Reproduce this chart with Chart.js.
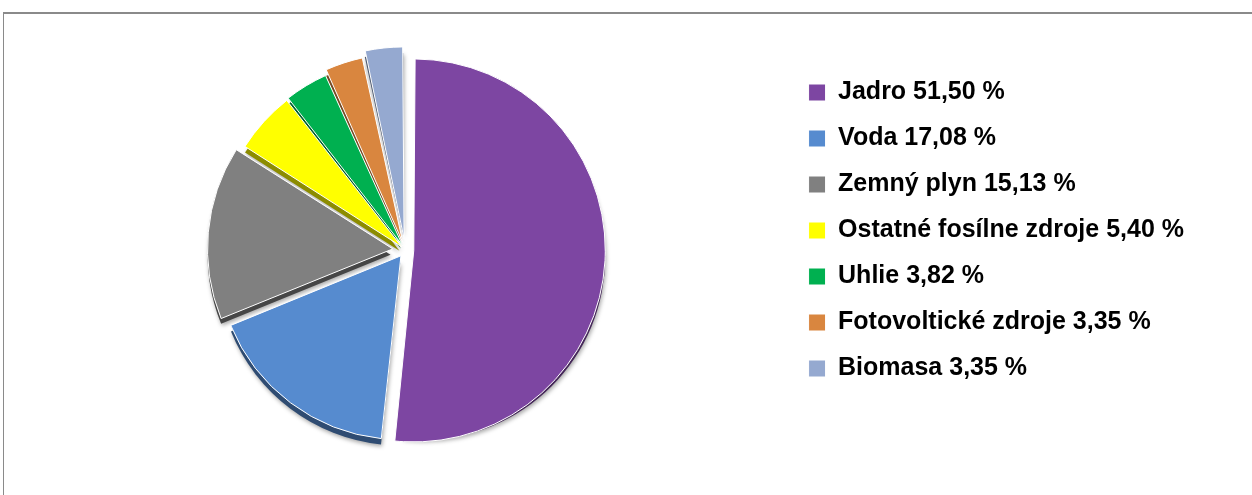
<!DOCTYPE html>
<html>
<head>
<meta charset="utf-8">
<script src="https://cdn.jsdelivr.net/npm/chart.js@4/dist/chart.umd.min.js"></script>
<style>
  html, body { margin: 0; padding: 0; background: #fff; }
  #wrap { position: relative; width: 1252px; height: 495px; overflow: hidden; }
  #frame { position: absolute; left: 3px; top: 12px; width: 1300px; height: 600px;
           border-left: 1px solid #8a8a8a; border-top: 2px solid #8a8a8a; }
  canvas { position: absolute; left: 0; top: 0; }
</style>
</head>
<body>
<div id="wrap">
  <div id="frame"></div>
  <canvas id="graph-area" width="1252" height="495"></canvas>
</div>
<script>
const categories = ['Jadro', 'Voda', 'Zemný plyn', 'Ostatné fosílne zdroje', 'Uhlie', 'Fotovoltické zdroje', 'Biomasa'];
const shares = [51.50, 17.08, 15.13, 5.40, 3.82, 3.35, 3.35];
const colors = ['#7D46A2', '#568BCF', '#808080', '#FFFF00', '#00B050', '#D9863F', '#95A9D0'];

const labels = categories.map((c, i) => c + ' ' + shares[i].toFixed(2).replace('.', ',') + ' %');
const explode = [34, 29, 50, 19, 20, 31, 45];

function darken(hex, f) {
  const n = parseInt(hex.slice(1), 16);
  const r = Math.round(((n >> 16) & 255) * f);
  const g = Math.round(((n >> 8) & 255) * f);
  const b = Math.round((n & 255) * f);
  return 'rgb(' + r + ',' + g + ',' + b + ')';
}

// same shift that ArcElement.draw applies for "offset"
function arcShift(arc) {
  const p = arc.getProps(['startAngle', 'endAngle', 'circumference']);
  const off = (arc.options.offset || 0) / 4;
  const fix = 1 - Math.sin(Math.min(Math.PI, p.circumference || 0));
  const d = off * (1 + fix);
  const half = (p.startAngle + p.endAngle) / 2;
  return {dx: Math.cos(half) * d, dy: Math.sin(half) * d};
}

// fake 3D side: darker copy of each arc, pushed down a few pixels
const depthPlugin = {
  id: 'depth',
  beforeDatasetsDraw(chart) {
    const ctx = chart.ctx;
    const meta = chart.getDatasetMeta(0);
    const depth = 6;
    ctx.save();
    ctx.shadowColor = 'rgba(0,0,0,0.35)';
    ctx.shadowBlur = 4;
    ctx.shadowOffsetX = 1;
    ctx.shadowOffsetY = 2;
    meta.data.forEach((arc, i) => {
      const p = arc.getProps(['x', 'y', 'startAngle', 'endAngle', 'outerRadius']);
      const s = arcShift(arc);
      const cx = p.x + s.dx;
      const cy = p.y + s.dy + depth;
      ctx.beginPath();
      ctx.moveTo(cx, cy);
      ctx.arc(cx, cy, p.outerRadius, p.startAngle, p.endAngle);
      ctx.closePath();
      ctx.fillStyle = darken(colors[i], 0.55);
      ctx.fill();
    });
    ctx.restore();
  }
};

const context = document.querySelector('#graph-area').getContext('2d');
new Chart(context, {
  type: 'pie',
  data: {
    labels,
    datasets: [{
      data: shares,
      backgroundColor: colors,
      borderColor: '#ffffff',
      borderWidth: 1,
      offset: explode,
      radius: 183
    }]
  },
  options: {
    responsive: false,
    animation: false,
    layout: { padding: { left: 23, right: 58, top: 59, bottom: 54 } },
    plugins: {
      tooltip: { enabled: false },
      legend: {
        position: 'right',
        align: 'start',
        labels: {
          boxWidth: 17,
          boxHeight: 17,
          padding: 21,
          color: '#000',
          font: { family: 'Liberation Sans', size: 25, weight: 'bold' }
        }
      }
    }
  },
  plugins: [depthPlugin]
});
</script>
</body>
</html>
